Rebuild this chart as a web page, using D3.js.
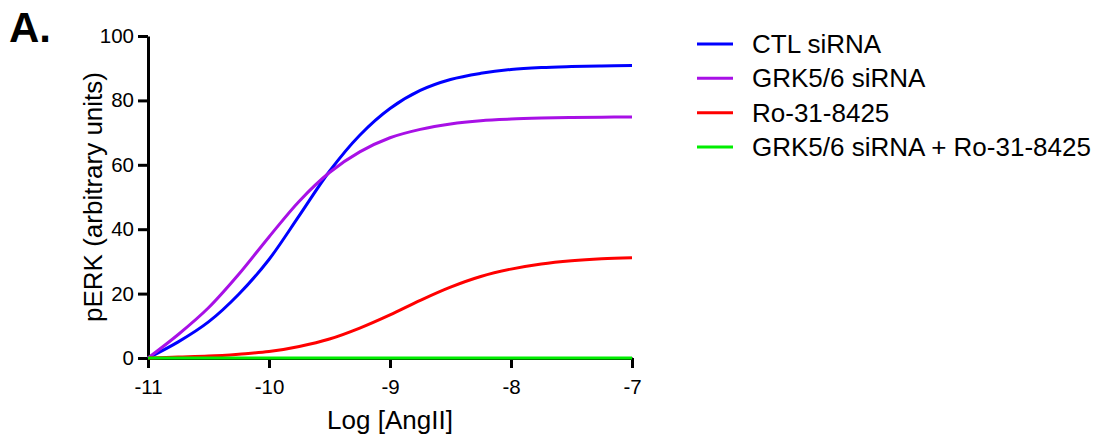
<!DOCTYPE html>
<html>
<head>
<meta charset="utf-8">
<script src="https://cdn.jsdelivr.net/npm/d3@7"></script>
<style>
  html, body { margin: 0; padding: 0; background: #fff; }
  svg { display: block; font-family: "Liberation Sans", Arial, Helvetica, sans-serif; }
</style>
</head>
<body>
<svg id="chart" width="1102" height="442"></svg>
<script>
// ---- data ----
const logAngII = [-11, -10.75, -10.5, -10.25, -10, -9.75, -9.5, -9.25, -9, -8.75, -8.5, -8.25, -8, -7.75, -7.5, -7.25, -7];
const ctlSiRNA = [0, 5.0, 11.2, 19.8, 30.6, 44.2, 58.0, 69.2, 77.5, 83.1, 86.5, 88.4, 89.6, 90.2, 90.5, 90.7, 90.8];
const grkSiRNA = [0, 7.3, 15.6, 26.0, 37.6, 48.7, 57.6, 64.0, 68.4, 71.0, 72.7, 73.7, 74.2, 74.5, 74.7, 74.8, 74.85];
const ro318425 = [0, 0.3, 0.6, 1.2, 2.0, 3.6, 5.9, 9.3, 13.4, 17.9, 22.0, 25.3, 27.6, 29.2, 30.2, 30.8, 31.1];
const grkPlusRo = [0, 0, 0, 0, 0, 0, 0, 0, 0, 0, 0, 0, 0, 0, 0, 0, 0];
const seriesNames = ["CTL siRNA", "GRK5/6 siRNA", "Ro-31-8425", "GRK5/6 siRNA + Ro-31-8425"];
const seriesColors = ["#0000ff", "#a810e6", "#ff0000", "#00ee00"];
const xTicks = [-11, -10, -9, -8, -7];
const yTicks = [0, 20, 40, 60, 80, 100];
const xTitle = "Log [AngII]";
const yTitle = "pERK (arbitrary units)";
const panelLabel = "A.";

const seriesValues = [ctlSiRNA, grkSiRNA, ro318425, grkPlusRo];
const series = seriesNames.map((name, i) => ({
  name, color: seriesColors[i],
  points: logAngII.map((x, j) => ({ x, y: seriesValues[i][j] }))
}));

// ---- layout ----
const svg = d3.select("#chart");
const x = d3.scaleLinear().domain([-11, -7]).range([148, 632]);
const y = d3.scaleLinear().domain([0, 100]).range([358, 36]);

// panel label
svg.append("text").attr("x", 9).attr("y", 42)
  .attr("font-size", 42).attr("font-weight", "bold").attr("fill", "#000")
  .text(panelLabel);

// axes
const xAxis = svg.append("g").attr("transform", `translate(0,${y(0)})`)
  .call(d3.axisBottom(x).tickValues(xTicks).tickFormat(d => String(d))
    .tickSize(10).tickSizeOuter(0).tickPadding(11));
const yAxis = svg.append("g").attr("transform", `translate(${x(-11)},0)`)
  .call(d3.axisLeft(y).tickValues(yTicks).tickFormat(d => String(d))
    .tickSize(10).tickSizeOuter(0).tickPadding(4));
[xAxis, yAxis].forEach(g => {
  g.selectAll("path.domain").attr("stroke", "#000").attr("stroke-width", 3);
  g.selectAll(".tick line").attr("stroke", "#000").attr("stroke-width", 3);
  g.selectAll(".tick text").attr("font-size", 20.5).attr("fill", "#000")
    .attr("font-family", "'Liberation Sans', Arial, sans-serif");
});

// axis titles
svg.append("text").attr("x", (x(-11) + x(-7)) / 2).attr("y", 429)
  .attr("text-anchor", "middle").attr("font-size", 26).attr("fill", "#000")
  .text(xTitle);
svg.append("text")
  .attr("transform", `translate(102,${(y(0) + y(100)) / 2}) rotate(-90)`)
  .attr("text-anchor", "middle").attr("font-size", 26).attr("fill", "#000")
  .text(yTitle);

// curves
const line = d3.line().x(d => x(d.x)).y(d => y(d.y)).curve(d3.curveCatmullRom.alpha(0.5));
svg.append("g").selectAll("path").data(series).join("path")
  .attr("d", d => line(d.points))
  .attr("fill", "none").attr("stroke", d => d.color)
  .attr("stroke-width", 3).attr("stroke-linejoin", "round");

// legend
const ly = d3.scalePoint().domain(seriesNames).range([44, 147]);
const leg = svg.append("g").selectAll("g").data(series).join("g")
  .attr("transform", d => `translate(0,${ly(d.name)})`);
leg.append("line").attr("x1", 697).attr("x2", 733).attr("y1", 0).attr("y2", 0)
  .attr("stroke", d => d.color).attr("stroke-width", 3);
leg.append("text").attr("x", 752).attr("y", 9).attr("font-size", 26).attr("fill", "#000")
  .text(d => d.name);
</script>
</body>
</html>
